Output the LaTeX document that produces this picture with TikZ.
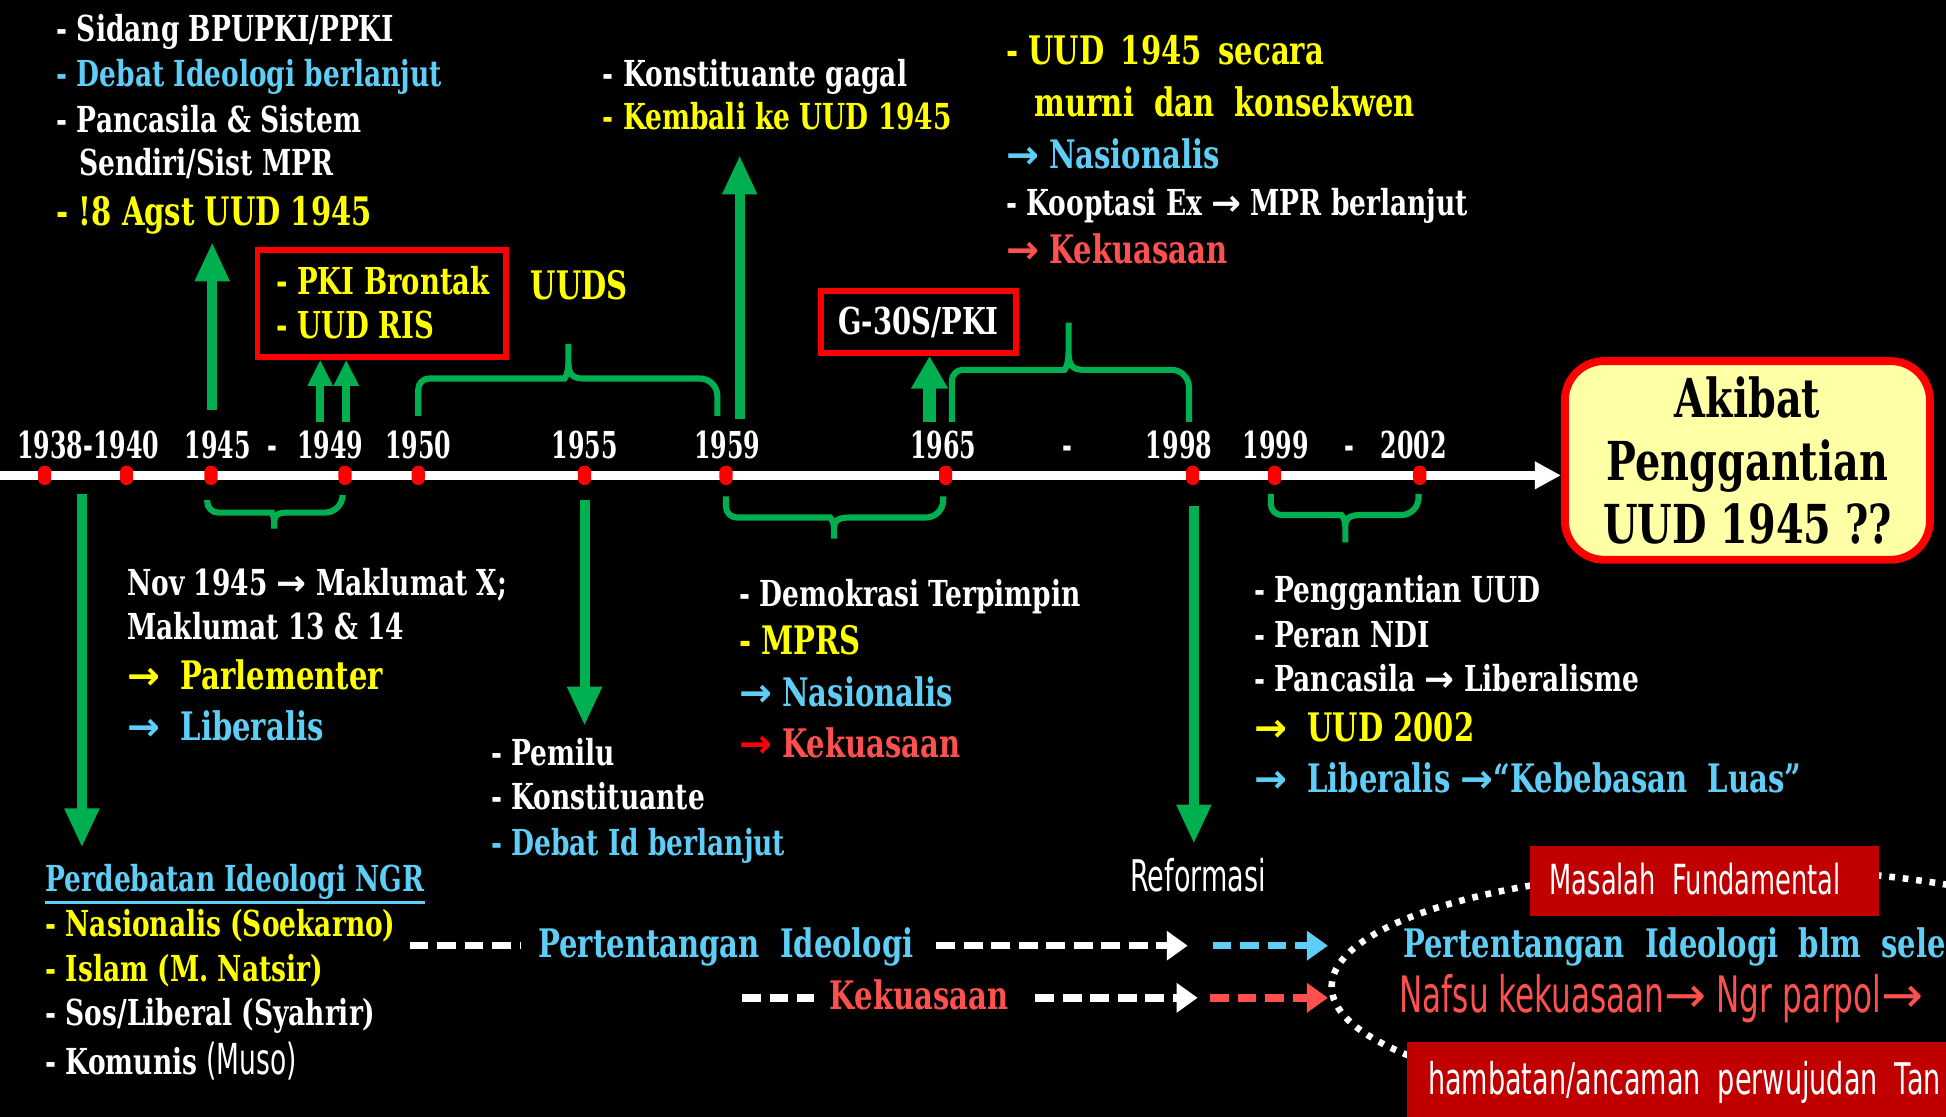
\documentclass[tikz,border=0pt]{standalone}
\usepackage{fontspec}
\usetikzlibrary{arrows.meta}

% condensed faces made from DejaVu
\newfontfamily\rock{DejaVu Serif}[FakeStretch=0.74]
\newfontfamily\rockyr{DejaVu Serif}[FakeStretch=0.64]
\newfontfamily\agency{DejaVu Sans}[FakeStretch=0.62]
\newfontfamily\arr{DejaVu Sans}

\definecolor{gline}{RGB}{0,176,80}
\definecolor{cyant}{RGB}{94,206,246}
\definecolor{yelt}{RGB}{255,255,0}
\definecolor{redt}{RGB}{255,80,80}
\definecolor{boxred}{RGB}{192,0,0}
\definecolor{akbfill}{RGB}{255,255,166}

\tikzset{
  txt/.style={anchor=mid west, inner sep=0pt, text=white, font=\rock\bfseries\fontsize{8.2}{9.8}\selectfont},
  big/.style={txt, font=\rock\bfseries\fontsize{9}{10.5}\selectfont},
  yr/.style={anchor=mid, inner sep=0pt, text=white, font=\rockyr\bfseries\fontsize{8.5}{10}\selectfont},
  thin/.style={anchor=mid west, inner sep=0pt, text=white, font=\agency\fontsize{9}{10}\selectfont},
  dot/.style={fill=red, draw=none, rounded corners=1.4pt, minimum width=3pt, minimum height=4.4pt, inner sep=0pt},
  garrow/.style={draw=gline, line width=2.3pt, -{Triangle[width=7.4pt,length=9pt]}},
  brack/.style={draw=gline, line width=1.4pt, rounded corners=2.5pt},
  redbox/.style={draw=red, line width=1.3pt, inner sep=0pt},
  dashw/.style={white, line width=1.7pt, dash pattern=on 4.3pt off 2pt},
  dtip/.style={-{Triangle[width=6.5pt,length=4.8pt]}}
}

\begin{document}
\begin{tikzpicture}[x=0.01cm, y=-0.01cm]

  \fill[black] (0,0) rectangle (1568,900);
  \clip (0,0) rectangle (1568,900);

  % time line
  \node[draw=red, line width=1.8pt, fill=akbfill, rounded corners=9pt,
        minimum width=2.94cm, minimum height=1.6cm, align=center, text=black,
        font=\rock\bfseries\fontsize{12.3}{14.5}\selectfont] (akb) at (1408,371)
        {Akibat\\Penggantian\\UUD 1945 ??};
  \coordinate (tl0) at (0,383);
  \draw[white, line width=2pt, -{Triangle[width=6pt,length=6pt]}] (tl0) -- (tl0 -| akb.west);

  \foreach \x [count=\i] in {36,102,170,278,337,471,585,762,961,1027,1144}
    \node[dot] (dot\i) at (\x,383) {};

  \node[yr, anchor=mid west] (yr0) at (148,362) {1945~~-};
  \foreach \x/\yy [count=\i] in {71/1938-1940, 266/1949, 337/1950, 471/1955, 586/1959,
      760/1965, 860/-, 950/1998, 1028/1999, 1087/-, 1139/2002}
    \node[yr] (yr\i) at (\x,362) {\yy};

  % braces
  \draw[brack] (337,335) -- (337,305) -- (446,305) [sharp corners] .. controls (455,305) and (458,301) .. (458,292) -- (458,277)
               (458,292) .. controls (458,301) and (461,305) .. (470,305) [rounded corners] -- (578,305) -- (578,335);
  \draw[brack] (767,340) -- (767,298) -- (849,298) [sharp corners] .. controls (858,298) and (861,294) .. (861,284) -- (861,260)
               (861,284) .. controls (861,294) and (864,298) .. (873,298) [rounded corners] -- (958,298) -- (958,340);
  \draw[brack] (167,403) -- (167,413) -- (210,413) [sharp corners] .. controls (218,413) and (221,415) .. (221,420) -- (221,426)
               (221,420) .. controls (221,415) and (224,413) .. (232,413) [rounded corners] -- (276,413) -- (276,403);
  \draw[brack] (585,400) -- (585,417) -- (660,417) [sharp corners] .. controls (669,417) and (672,420) .. (672,425) -- (672,434)
               (672,425) .. controls (672,420) and (675,417) .. (684,417) [rounded corners] -- (760,417) -- (760,400);
  \draw[brack] (1024,398) -- (1024,415) -- (1072,415) [sharp corners] .. controls (1081,415) and (1084,418) .. (1084,424) -- (1084,437)
               (1084,424) .. controls (1084,418) and (1087,415) .. (1096,415) [rounded corners] -- (1143,415) -- (1143,398);

  % boxes above the line
  \node[redbox, minimum width=2.0cm, minimum height=0.86cm] (ris) at (307.5,244.5) {};
  \node[big, text=yelt, font=\rock\bfseries\fontsize{8.5}{10}\selectfont] (r1) at (222,230) {- PKI Brontak};
  \node[big, text=yelt, font=\rock\bfseries\fontsize{8.5}{10}\selectfont] (r2) at (222,265) {- UUD RIS};
  \node[big, text=yelt] (uuds) at (427,234) {UUDS};
  \node[redbox, minimum width=1.57cm, minimum height=0.5cm, text=white,
        font=\rock\bfseries\fontsize{8.5}{10}\selectfont] (g30s) at (740,259.5) {G-30S/PKI};

  % texts above
  \node[txt] (a1) at (45,26) {- Sidang BPUPKI/PPKI};
  \node[txt, text=cyant] (a2) at (45,62) {- Debat Ideologi berlanjut};
  \node[txt] (a3) at (45,99) {- Pancasila \& Sistem};
  \node[txt] (a4) at (63,134) {Sendiri/Sist MPR};
  \node[big, text=yelt] (a5) at (45,174) {- !8 Agst UUD 1945};

  \node[txt] (b1) at (485,62) {- Konstituante gagal};
  \node[txt, text=yelt] (b2) at (485,97) {- Kembali ke UUD 1945};

  \node[big, text=yelt] (c1) at (810,44) {- UUD\, 1945\, secara};
  \node[big, text=yelt] (c2) at (833,86) {murni~ dan~ konsekwen};
  \node[big, text=cyant] (c3) at (810,128) {{\arr →} Nasionalis};
  \node[txt] (c4) at (810,166) {- Kooptasi Ex {\arr →} MPR berlanjut};
  \node[big, text=redt] (c5) at (810,205) {{\arr →} Kekuasaan};

  % texts below
  \node[txt] (d1) at (102,472) {Nov 1945 {\arr →} Maklumat X;};
  \node[txt] (d2) at (102,508) {Maklumat 13 \& 14};
  \node[big, text=yelt] (d3) at (102,548) {{\arr →}~ Parlementer};
  \node[big, text=cyant] (d4) at (102,589) {{\arr →}~ Liberalis};

  \node[txt] (e1) at (395,609) {- Pemilu};
  \node[txt] (e2) at (395,645) {- Konstituante};
  \node[txt, text=cyant] (e3) at (395,682) {- Debat Id berlanjut};

  \node[txt] (f1) at (595,481) {- Demokrasi Terpimpin};
  \node[big, text=yelt] (f2) at (595,520) {- MPRS};
  \node[big, text=cyant] (f3) at (595,562) {{\arr →} Nasionalis};
  \node[big, text=redt] (f4) at (595,603) {{\color{red}\arr →} Kekuasaan};

  \node[txt] (g1) at (1010,478) {- Penggantian UUD};
  \node[txt] (g2) at (1010,514) {- Peran NDI};
  \node[txt] (g3) at (1010,550) {- Pancasila {\arr →} Liberalisme};
  \node[big, text=yelt] (g4) at (1010,590) {{\arr →}~ UUD 2002};
  \node[big, text=cyant] (g5) at (1010,631) {{\arr →}~ Liberalis {\arr →}“Kebebasan~ Luas”};

  \node[txt, text=cyant] (h1) at (36,711) {Perdebatan Ideologi NGR};
  \draw[cyant, line width=0.8pt] ([yshift=-2.4pt]h1.base west) -- ([yshift=-2.4pt]h1.base east);
  \node[txt, text=yelt] (h2) at (36,747) {- Nasionalis (Soekarno)};
  \node[txt, text=yelt] (h3) at (36,783) {- Islam (M. Natsir)};
  \node[txt] (h4) at (36,819) {- Sos/Liberal (Syahrir)};
  \node[txt] (h5) at (36,858) {- Komunis {\agency\mdseries\fontsize{9.8}{11}\selectfont (Muso)}};

  % green arrows
  \coordinate (ga1) at (171,330);  \coordinate (ga1t) at (171,195);
  \coordinate (ga2) at (258,340);  \coordinate (ga3) at (279,340);
  \coordinate (ga4) at (596,338);  \coordinate (ga4t) at (596,125);
  \coordinate (ga5) at (749,340);
  \coordinate (gb1) at (66,398);   \coordinate (gb1t) at (66,683);
  \coordinate (gb2) at (471,403);  \coordinate (gb2t) at (471,585);
  \coordinate (gb3) at (962,408);  \coordinate (gb3t) at (962,680);

  \draw[garrow] (ga1) -- (ga1t);
  \draw[garrow, line width=1.8pt, -{Triangle[width=5.4pt,length=6pt]}] (ga2) -- (ga2 |- ris.south);
  \draw[garrow, line width=1.8pt, -{Triangle[width=5.4pt,length=6pt]}] (ga3) -- (ga3 |- ris.south);
  \draw[garrow] (ga4) -- (ga4t);
  \draw[garrow, line width=3.1pt, -{Triangle[width=8pt,length=7.5pt]}] (ga5) -- (ga5 |- g30s.south);
  \draw[garrow] (gb1) -- (gb1t);
  \draw[garrow] (gb2) -- (gb2t);
  \draw[garrow] (gb3) -- (gb3t);

  % bottom rows
  \node[thin, font=\agency\fontsize{10}{11}\selectfont] (refm) at (910,711) {Reformasi};
  \node[big, text=cyant] (pti) at (433,764) {Pertentangan~ Ideologi};
  \node[big, text=redt] (kek) at (668,806) {Kekuasaan};

  \coordinate (p0) at (330,762);  \coordinate (p1) at (957,762);
  \coordinate (p2) at (977,762);  \coordinate (p3) at (1070,762);
  \coordinate (q0) at (598,804);  \coordinate (q1) at (965,804);
  \coordinate (q2) at (975,804);  \coordinate (q3) at (1070,804);

  \draw[dashw, shorten >=4pt] (p0) -- (p0 -| pti.west);
  \draw[dashw, dtip, shorten <=5pt] (p0 -| pti.east) -- (p1);
  \draw[dashw, dtip, cyant] (p2) -- (p3);
  \draw[dashw, shorten >=3.5pt] (q0) -- (q0 -| kek.west);
  \draw[dashw, dtip, shorten <=6pt] (q0 -| kek.east) -- (q1);
  \draw[dashw, dtip, redt] (q2) -- (q3);

  % dotted oval and the red labels
  \draw[white, line width=1.5pt, dash pattern=on 1.3pt off 1.8pt] (1403,795) ellipse [x radius=330, y radius=95];
  \node[fill=boxred, minimum width=2.81cm, minimum height=0.56cm, inner sep=0pt] (mf) at (1373.5,710) {};
  \node[thin, font=\agency\fontsize{9.5}{11}\selectfont] (mft) at (1248,713) {Masalah~ Fundamental};
  \node[big, text=cyant] (pib) at (1130,764) {Pertentangan~ Ideologi~ blm~ sele};
  \node[thin, text=redt, font=\agency\fontsize{11.5}{13}\selectfont] (nafsu) at (1127,808) {Nafsu kekuasaan{\arr →} Ngr parpol{\arr →}};
  \node[fill=boxred, anchor=west, minimum width=4.6cm, minimum height=0.62cm, inner sep=0pt] (hb) at (1133,871) {};
  \node[thin, font=\agency\fontsize{10}{11}\selectfont] (hbt) at (1150,874) {hambatan/ancaman~ perwujudan~ Tan};

\end{tikzpicture}
\end{document}
